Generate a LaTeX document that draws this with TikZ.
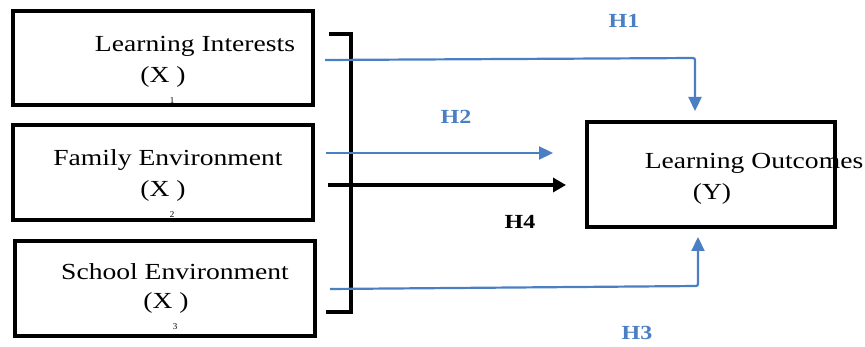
\documentclass[tikz,border=0pt]{standalone}
\usepackage{fontspec}
\setmainfont{Liberation Serif}
\newfontfamily\widefont[FakeStretch=1.2]{Liberation Serif}
\usetikzlibrary{arrows.meta}
\definecolor{hblue}{RGB}{74,127,196}
\begin{document}
\begin{tikzpicture}[x=1pt,y=-1pt,
  box/.style={draw=black,line width=3.6pt,minimum width=#1,inner sep=0pt},
  txt/.style={font=\widefont\fontsize{23}{26}\selectfont,inner sep=0pt},
  sub/.style={font=\fontsize{9}{10}\selectfont,inner sep=0pt},
  hlab/.style={font=\widefont\fontsize{20}{22}\selectfont\bfseries,inner sep=0pt},
  bline/.style={draw=hblue,line width=2.2pt},
  btip/.style={-{Triangle[length=14pt,width=13pt]}},
  kline/.style={draw=black,line width=3.6pt}]
\useasboundingbox (0,0) rectangle (865,347);
% boxes
\node[box=300pt,minimum height=94pt] (b1) at (163,58) {};
\node[box=300pt,minimum height=95pt] (b2) at (163,172.5) {};
\node[box=300pt,minimum height=95pt] (b3) at (165,288.5) {};
\node[box=248pt,minimum height=105pt] (y) at (711,174.5) {};
% texts
\node[txt] (t1) at (195,46) {Learning Interests};
\node[txt] (x1) at (163,77) {(X )};
\node[sub] (s1) at (172,101) {1};
\node[txt] (t2) at (168,160) {Family Environment};
\node[txt] (x2) at (163,191) {(X )};
\node[sub] (s2) at (172,215) {2};
\node[txt] (t3) at (175,272) {School Environment};
\node[txt] (x3) at (166,303) {(X )};
\node[sub] (s3) at (175,327) {3};
\node[txt] (ty) at (754,163) {Learning Outcomes};
\node[txt] (yy) at (712,194) {(Y)};
% bracket
\coordinate (bt) at (351,34);
\coordinate (bb) at (351,312);
\draw[kline] (329,34) -- (bt) -- (bb) -- (326,312);
% connectors
\coordinate (s1a) at (325,60);
\coordinate (s2a) at (326,153);
\coordinate (s4a) at (328,185);
\coordinate (s3a) at (330,289);
\coordinate (e2) at (553,153);
\coordinate (e4) at (566,185);
\draw[bline,btip,rounded corners=2pt] (s1a) -- (695,58) -- (695,111);
\draw[bline,btip] (s2a) -- (e2);
\draw[kline,-{Triangle[length=13pt,width=14pt]}] (s4a) -- (e4);
\draw[bline,btip,rounded corners=2pt] (s3a) -- (698,286) -- (698,237);
% labels
\node[hlab,text=hblue] (h1) at (624,21) {H1};
\node[hlab,text=hblue] (h2) at (456,117) {H2};
\node[hlab,text=hblue] (h3) at (637,333) {H3};
\node[hlab] (h4) at (520,222) {H4};
\end{tikzpicture}
\end{document}
